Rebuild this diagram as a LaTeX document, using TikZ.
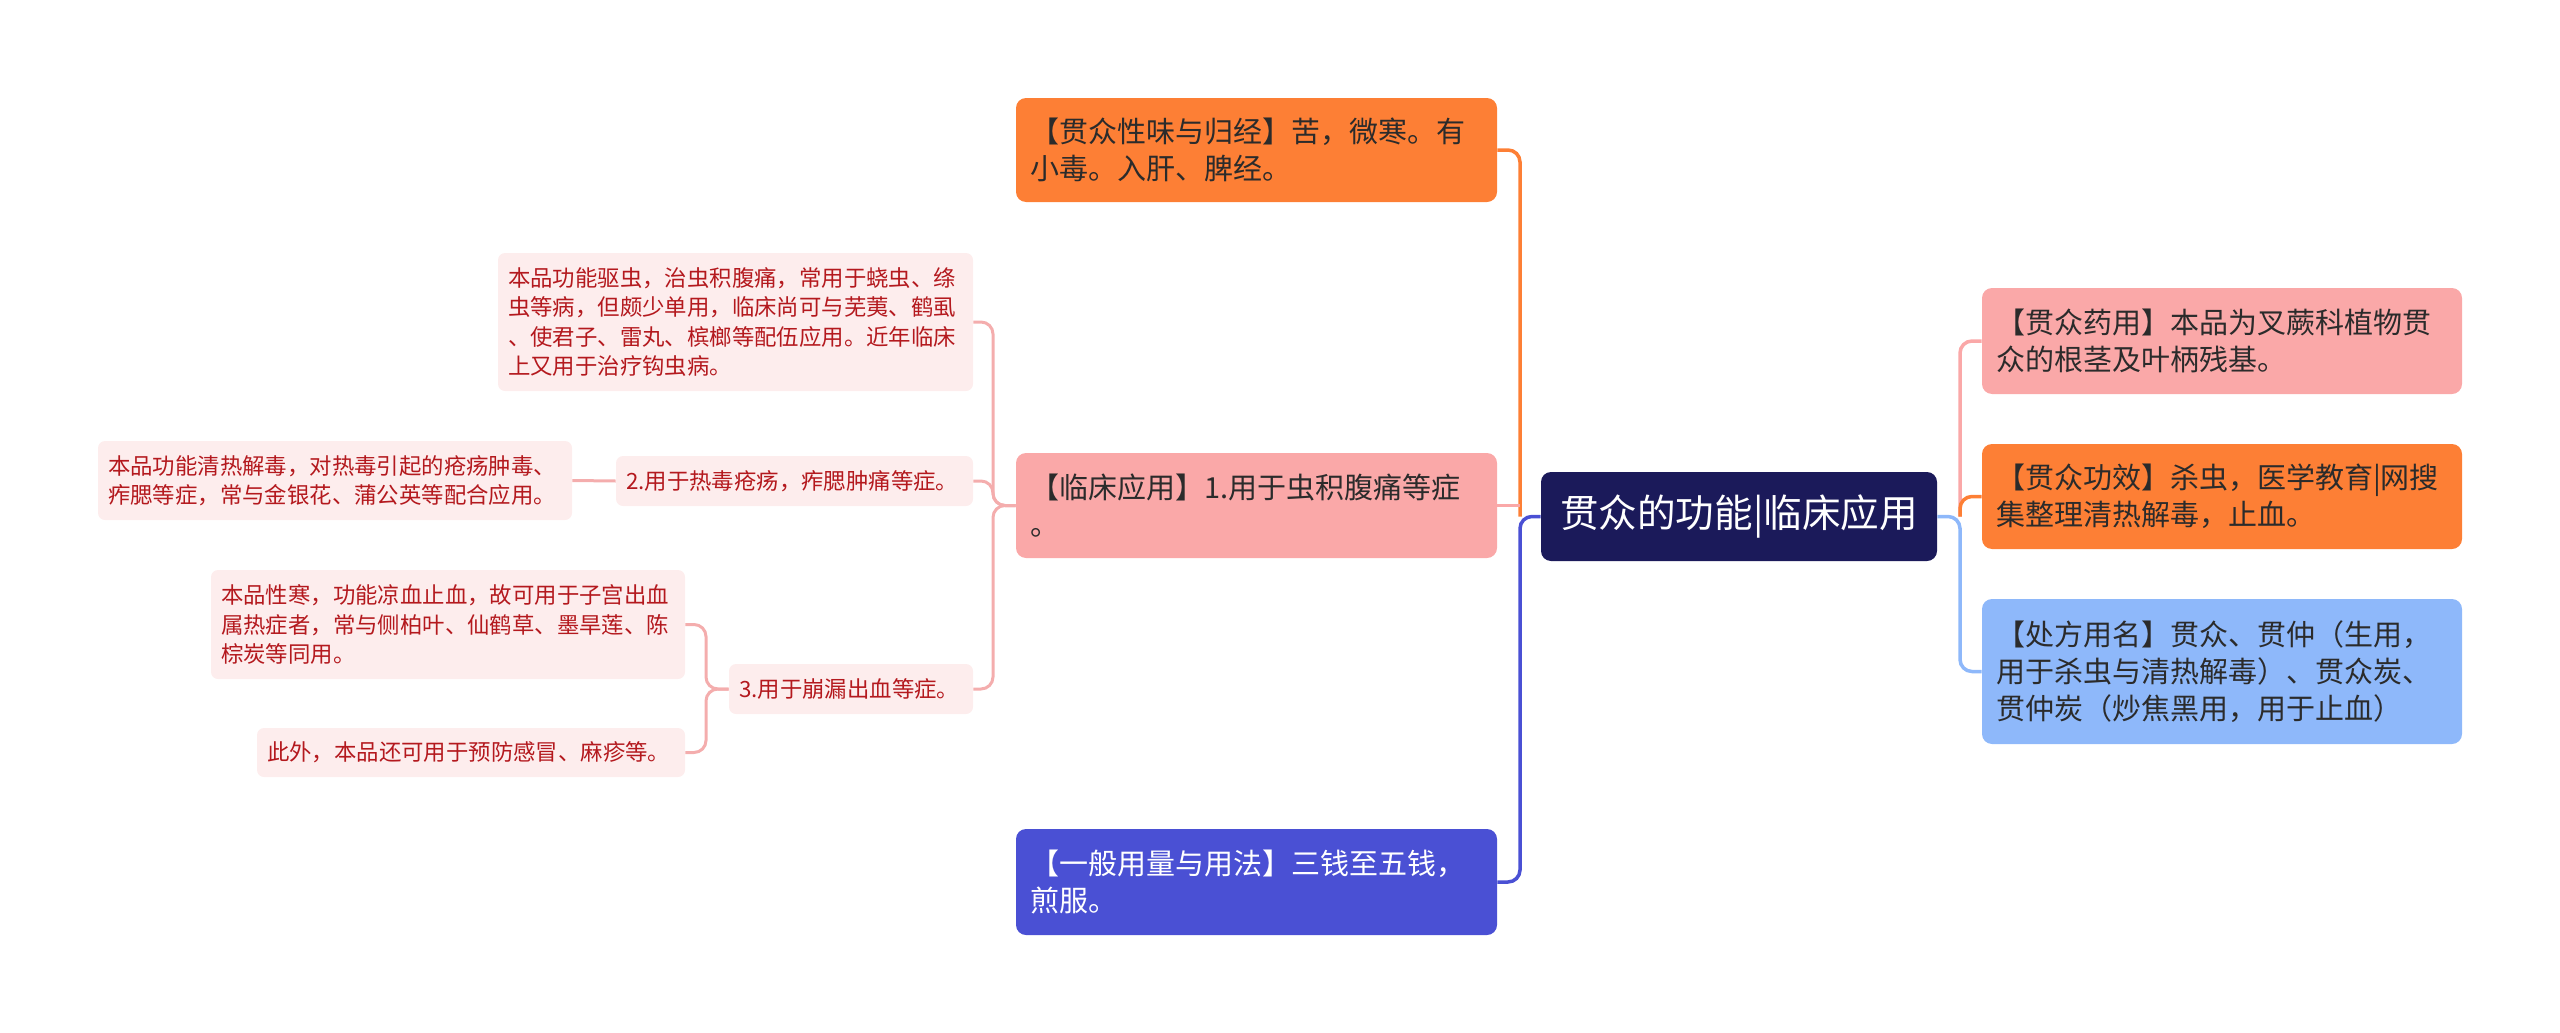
\documentclass[tikz,border=0pt]{standalone}
\usepackage{fontspec}
\setmainfont{Noto Sans CJK SC}

\definecolor{rootnavy}{HTML}{1B1A5A}
\definecolor{boxorange}{HTML}{FD7F35}
\definecolor{boxpink}{HTML}{FAA8A8}
\definecolor{boxsky}{HTML}{8EB8FA}
\definecolor{boxblue}{HTML}{4A50D4}
\definecolor{subfill}{HTML}{FDEDED}
\definecolor{subred}{HTML}{B4191E}
\definecolor{subline}{HTML}{F4ADAD}
\definecolor{txtdark}{HTML}{2B2B2B}

\newcommand*{\trunkL}{1520}
\newcommand*{\trunkR}{1960}
\newcommand*{\trunkB}{993}
\newcommand*{\trunkS}{706}

\tikzset{
    box/.style={rectangle, rounded corners=5pt, inner xsep=7pt, inner ysep=0pt,
        align=left, text=txtdark, font=\fontsize{14.5pt}{18.5pt}\selectfont},
    sub/.style={rectangle, rounded corners=3.5pt, fill=subfill, text=subred,
        inner xsep=5pt, inner ysep=0pt, align=left,
        font=\fontsize{11.2pt}{14.7pt}\selectfont},
    link/.style={line width=1.75pt, rounded corners=6pt},
    sublink/.style={line width=1.5pt, rounded corners=6pt, subline},
}

\begin{document}
\begin{tikzpicture}[x=0.5pt,y=-0.5pt]
\useasboundingbox (0,0) rectangle (2560,1033);

% root
\node[box, fill=rootnavy, text=white, align=center, font=\fontsize{19.3pt}{23pt}\selectfont,
    minimum width=198pt, minimum height=44.5pt] (R) at (1739,516.5) {贯众的功能|临床应用};

% right branches
\node[box, fill=boxpink, text width=226pt, minimum height=53pt] (D) at (2222,341)
    {【贯众药用】本品为叉蕨科植物贯\\众的根茎及叶柄残基。};
\node[box, fill=boxorange, text width=226pt, minimum height=52.5pt] (E) at (2222,496.5)
    {【贯众功效】杀虫，医学教育|网搜\\集整理清热解毒，止血。};
\node[box, fill=boxsky, text width=226pt, minimum height=72.5pt] (F) at (2222,671.5)
    {【处方用名】贯众、贯仲（生用，\\用于杀虫与清热解毒）、贯众炭、\\贯仲炭（炒焦黑用，用于止血）};

% left branches
\node[box, fill=boxorange, text width=226.5pt, minimum height=52pt] (A) at (1256.5,150)
    {【贯众性味与归经】苦，微寒。有\\小毒。入肝、脾经。};
\node[box, fill=boxpink, text width=226.5pt, minimum height=52.5pt] (B) at (1256.5,505.5)
    {【临床应用】1.用于虫积腹痛等症\\。};
\node[box, fill=boxblue, text=white, text width=226.5pt, minimum height=53pt] (C) at (1256.5,882)
    {【一般用量与用法】三钱至五钱，\\煎服。};

% clinical use, second level
\node[sub, text width=227.5pt, minimum height=69pt] (G) at (735.5,322)
    {本品功能驱虫，治虫积腹痛，常用于蛲虫、绦\\虫等病，但颇少单用，临床尚可与芜荑、鹤虱\\、使君子、雷丸、槟榔等配伍应用。近年临床\\上又用于治疗钩虫病。};
\node[sub, text width=168.5pt, minimum height=25pt] (H) at (794.5,481)
    {2.用于热毒疮疡，痄腮肿痛等症。};
\node[sub, text width=112pt, minimum height=25pt] (I) at (851,689)
    {3.用于崩漏出血等症。};

% clinical use, third level
\node[sub, text width=227pt, minimum height=39.5pt] (J) at (335,480.5)
    {本品功能清热解毒，对热毒引起的疮疡肿毒、\\痄腮等症，常与金银花、蒲公英等配合应用。};
\node[sub, text width=227pt, minimum height=54.5pt] (K) at (448,624.5)
    {本品性寒，功能凉血止血，故可用于子宫出血\\属热症者，常与侧柏叶、仙鹤草、墨旱莲、陈\\棕炭等同用。};
\node[sub, text width=204pt, minimum height=24.5pt] (L) at (471,752.5)
    {此外，本品还可用于预防感冒、麻疹等。};

% junctions
\coordinate (Lj) at (\trunkL,516.5);
\coordinate (Rj) at (\trunkR,516.5);
\coordinate (Bj) at (\trunkB,505.5);
\coordinate (Ij) at (\trunkS,689);

% connectors of the root
\draw[link, boxorange] (A.east) -| (Lj);
\draw[link, boxpink] (B.east) -- (B.east -| Lj);
\draw[link, boxblue] (R.west) -- (Lj) |- (C.east);
\draw[link, boxpink] (Rj) |- (D.west);
\draw[link, boxorange] (Rj) |- (E.west);
\draw[link, boxsky] (R.east) -- (Rj) |- (F.west);

% connectors of clinical use
\foreach \n in {G,H,I} {
    \draw[sublink] (B.west) -- (Bj) |- (\n.east);
}
\draw[sublink] (H.west) -- (J.east);
\foreach \n in {K,L} {
    \draw[sublink] (I.west) -- (Ij) |- (\n.east);
}

\end{tikzpicture}
\end{document}
